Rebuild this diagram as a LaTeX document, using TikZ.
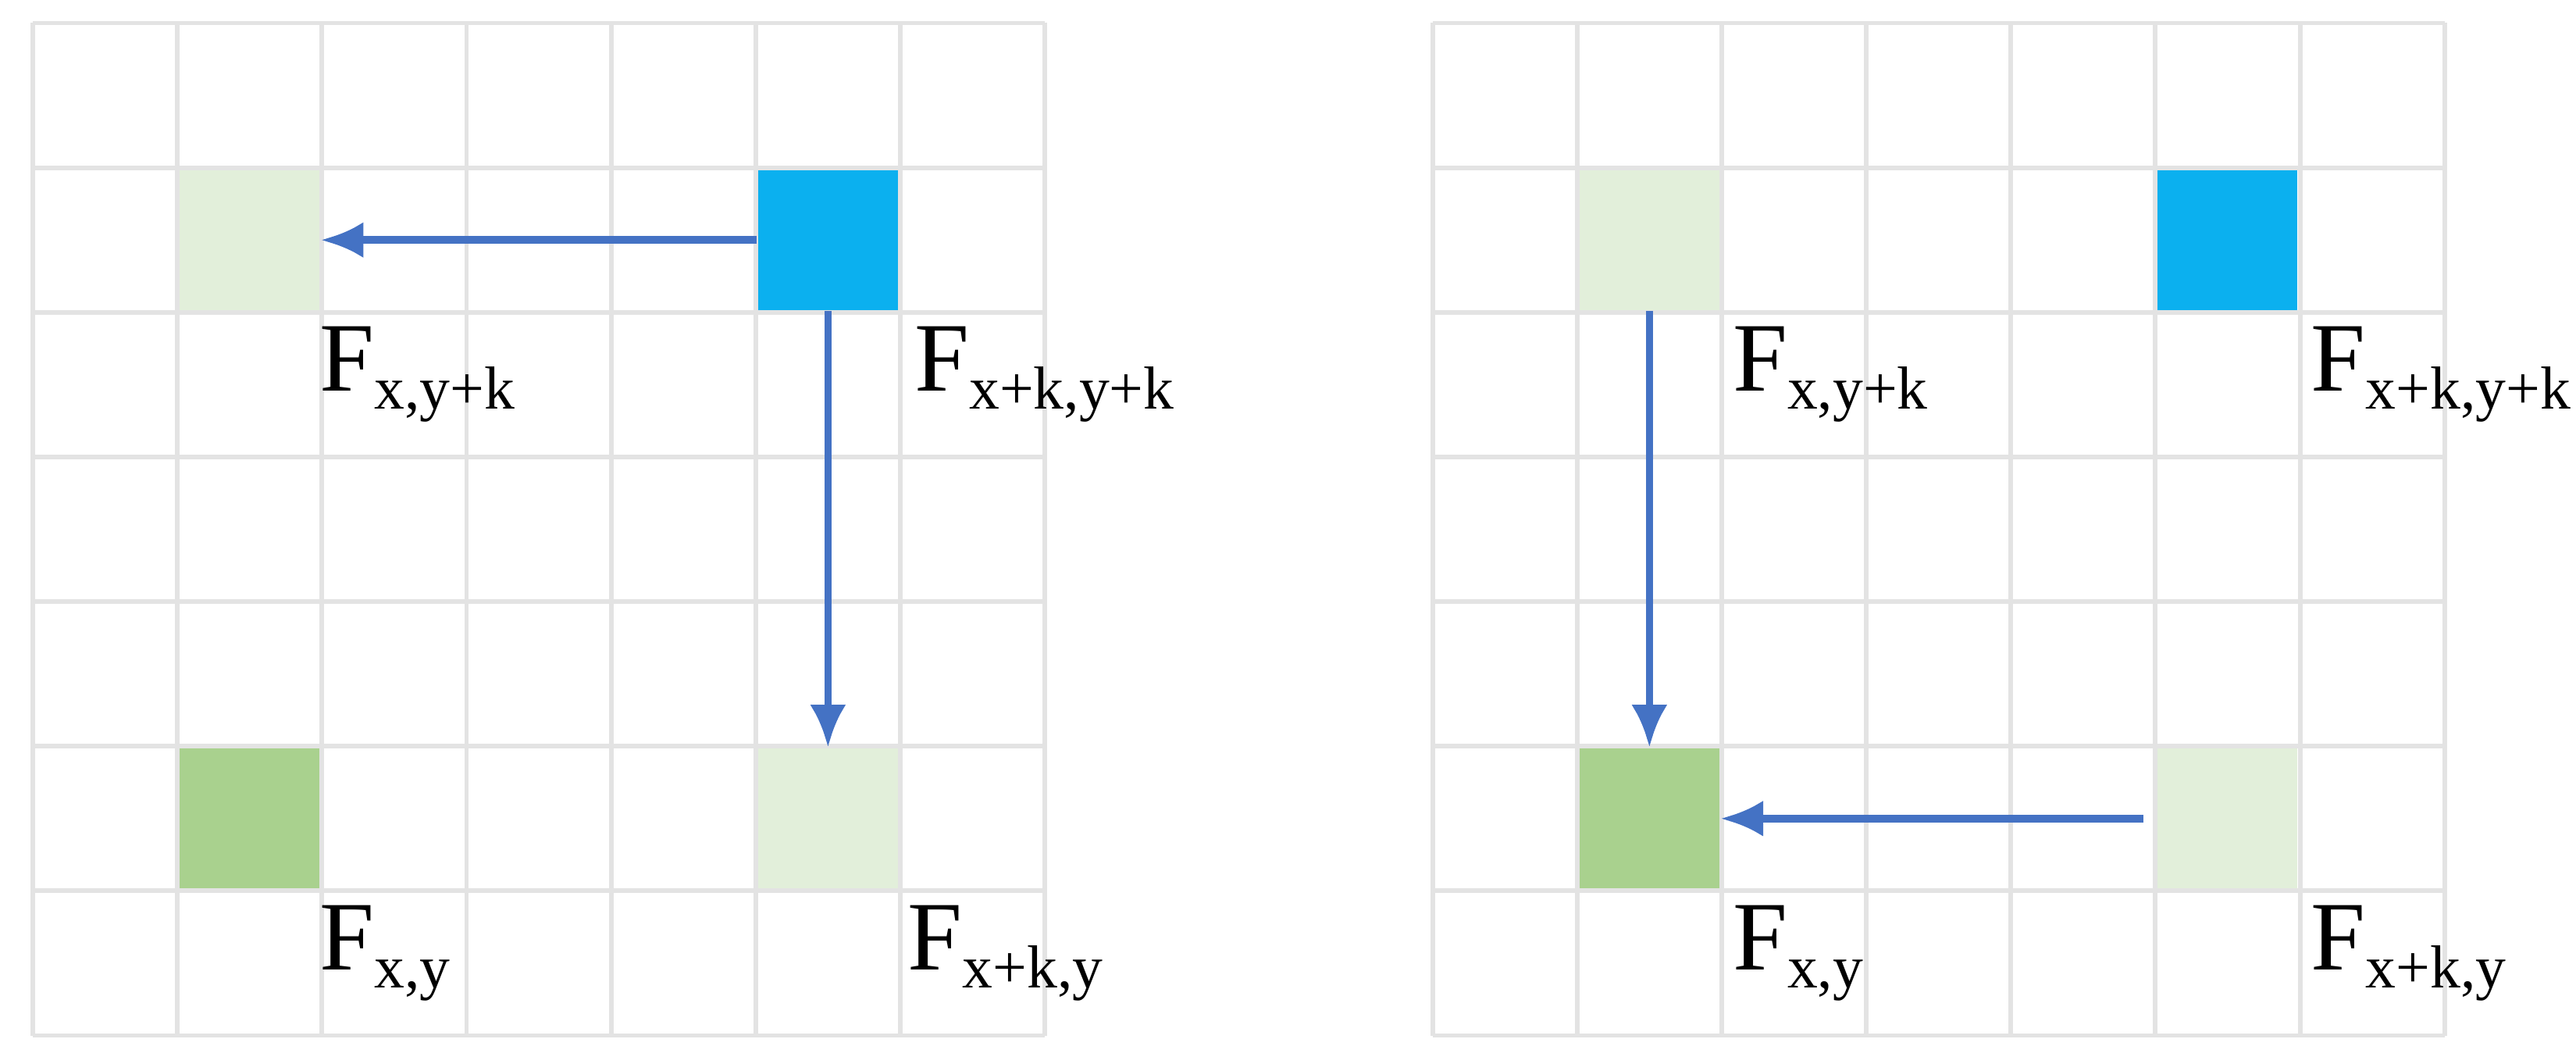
\documentclass[tikz,border=0pt]{standalone}
\usepackage{fontspec}
\setmainfont{Liberation Serif}
\usetikzlibrary{arrows.meta,positioning}
\definecolor{gridgray}{HTML}{E3E3E3}
\definecolor{cellblue}{HTML}{0BB0EF}
\definecolor{lightgreen}{HTML}{E2EFDA}
\definecolor{darkgreen}{HTML}{A9D18E}
\definecolor{arrowblue}{HTML}{4472C4}
\newcommand{\fsub}[1]{F\raisebox{-0.4ex}{\fontsize{10.5}{12}\selectfont #1}}
\tikzset{
  % grid lines
  grid/.style={draw=gridgray, line width=0.8pt},
  % coloured cells
  cell/.style={rectangle, minimum size=0.85cm, inner sep=0pt, draw=none, fill=#1},
  % labels below the cells
  lab/.style={anchor=north west, inner sep=0pt, font=\fontsize{17}{20}\selectfont},
  % arrows
  arrow/.style={-{Latex[length=2.6mm,width=2.2mm]}, draw=arrowblue, line width=1.3pt}
}
\begin{document}
\begin{tikzpicture}[x=0.01cm, y=-0.01cm]
  \useasboundingbox (0,0) rectangle (1568,647);
  % two grids
  \foreach \ox in {20,872}{
    \foreach \i in {0,...,7}{
      \draw[grid] (\ox+\i*88,14) -- (\ox+\i*88,630);
      \draw[grid] (\ox,14+\i*88) -- (\ox+616,14+\i*88);
    }
  }
  % left grid cells
  \node[cell=lightgreen] (lxyk) at (152,146) {};
  \node[cell=cellblue] (lxkyk) at (504,146) {};
  \node[cell=darkgreen] (lxy) at (152,498) {};
  \node[cell=lightgreen] (lxky) at (504,498) {};
  % right grid cells
  \node[cell=lightgreen] (rxyk) at (1004,146) {};
  \node[cell=cellblue] (rxkyk) at (1356,146) {};
  \node[cell=darkgreen] (rxy) at (1004,498) {};
  \node[cell=lightgreen] (rxky) at (1356,498) {};
  % labels
  \node[lab] at (194,198) {\fsub{x,y+k}};
  \node[lab] at (556,198) {\fsub{x+k,y+k}};
  \node[lab] at (194,550) {\fsub{x,y}};
  \node[lab] at (552,550) {\fsub{x+k,y}};
  \node[lab] at (1054,198) {\fsub{x,y+k}};
  \node[lab] at (1406,198) {\fsub{x+k,y+k}};
  \node[lab] at (1054,550) {\fsub{x,y}};
  \node[lab] at (1406,550) {\fsub{x+k,y}};
  % arrows
  \draw[arrow] (lxkyk.west) -- (lxyk.east);
  \draw[arrow] (lxkyk.south) -- (lxky.north);
  \draw[arrow] (rxyk.south) -- (rxy.north);
  \draw[arrow] ([xshift=-0.08cm]rxky.west) -- (rxy.east);
\end{tikzpicture}
\end{document}
